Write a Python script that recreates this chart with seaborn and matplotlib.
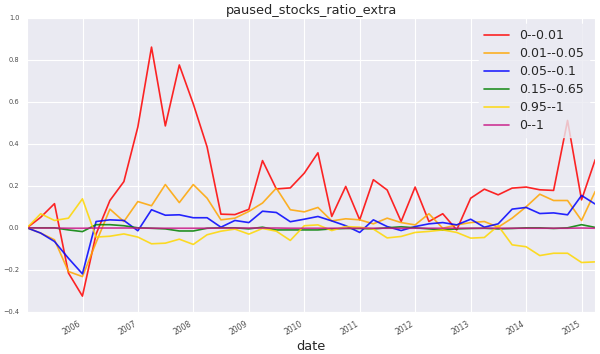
import pandas as pd
import matplotlib
matplotlib.use('Agg')
import matplotlib.pyplot as plt
import matplotlib.dates as mdates
import seaborn as sns

# 분기별 날짜 (2004-12-31 ~ 2015-03-31)
dates = pd.date_range('2004-12-31', periods=42, freq=pd.offsets.QuarterEnd())
year_ticks = [str(y) for y in range(2006, 2016)]

r_0_001 = [0.0, 0.05, 0.115, -0.215, -0.325, -0.03, 0.13, 0.22, 0.48, 0.86,
           0.485, 0.775, 0.59, 0.385, 0.065, 0.063, 0.088, 0.32, 0.185, 0.19,
           0.26, 0.357, 0.054, 0.197, 0.038, 0.229, 0.18, 0.03, 0.194, 0.03,
           0.067, -0.01, 0.141, 0.184, 0.157, 0.189, 0.194, 0.181, 0.178, 0.511,
           0.133, 0.324]
r_001_005 = [0.0, -0.025, -0.057, -0.208, -0.232, -0.07, 0.089, 0.03, 0.125, 0.105,
             0.206, 0.12, 0.206, 0.141, 0.038, 0.046, 0.078, 0.118, 0.189, 0.086,
             0.076, 0.097, 0.033, 0.043, 0.038, 0.019, 0.046, 0.025, 0.014, 0.067,
             -0.002, 0.014, 0.025, 0.03, 0.003, 0.046, 0.10, 0.16, 0.13, 0.13,
             0.035, 0.173]
r_005_01 = [0.0, -0.025, -0.065, -0.145, -0.219, 0.03, 0.038, 0.035, -0.014, 0.086,
            0.06, 0.062, 0.048, 0.048, 0.003, 0.035, 0.025, 0.079, 0.073, 0.029,
            0.041, 0.054, 0.033, 0.01, -0.022, 0.038, 0.006, -0.013, 0.006, 0.019,
            0.025, 0.014, 0.041, 0.003, 0.019, 0.089, 0.097, 0.068, 0.071, 0.062,
            0.154, 0.113]
r_015_065 = [0.0, 0.0, 0.0, -0.01, -0.018, 0.015, 0.015, 0.01, 0.0, -0.002,
             -0.005, -0.015, -0.015, -0.002, 0.0, 0.0, -0.005, 0.003, -0.01, -0.01,
             -0.01, -0.01, -0.005, -0.003, -0.003, -0.005, 0.0, 0.005, 0.0, -0.005,
             -0.01, -0.005, -0.003, -0.002, -0.005, -0.003, 0.0, 0.0, -0.003, 0.0,
             0.015, 0.002]
r_095_1 = [0.0, 0.067, 0.035, 0.046, 0.138, -0.044, -0.04, -0.029, -0.044, -0.076,
           -0.073, -0.054, -0.079, -0.033, -0.016, -0.006, -0.03, -0.003, -0.016, -0.06,
           0.01, 0.014, -0.013, 0.006, 0.003, -0.006, -0.048, -0.041, -0.022, -0.017,
           -0.01, -0.022, -0.049, -0.046, 0.01, -0.081, -0.09, -0.132, -0.121, -0.121,
           -0.165, -0.162]
r_0_1 = [0.0, -0.001, -0.001, -0.002, -0.002, -0.001, -0.001, -0.001, -0.001, -0.002,
         -0.002, -0.002, -0.002, -0.002, -0.001, -0.001, -0.001, -0.001, -0.001, -0.002,
         -0.002, -0.002, -0.002, -0.002, -0.002, -0.002, -0.002, -0.002, -0.002, -0.002,
         -0.002, -0.002, -0.002, -0.002, -0.002, -0.002, -0.002, -0.002, -0.002, -0.002,
         -0.001, -0.002]

labels = ['0--0.01', '0.01--0.05', '0.05--0.1', '0.15--0.65', '0.95--1', '0--1']
colors = ['red', 'orange', 'blue', 'green', 'gold', 'mediumvioletred']
series = [r_0_001, r_001_005, r_005_01, r_015_065, r_095_1, r_0_1]

df = pd.concat([pd.DataFrame({'date': dates, 'value': s, 'group': lab})
                for lab, s in zip(labels, series)], ignore_index=True)

sns.set_style('darkgrid')
fig = plt.figure(figsize=(6, 3.54), dpi=100)
ax = fig.add_axes([0.045, 0.119, 0.947, 0.831])

sns.lineplot(data=df, x='date', y='value', hue='group', hue_order=labels,
             palette=dict(zip(labels, colors)), linewidth=1.2, alpha=0.85, ax=ax)

ax.set_xlim(dates[0], dates[-1])
ax.set_ylim(-0.4, 1.0)
ax.set_yticks([-0.4, -0.2, 0.0, 0.2, 0.4, 0.6, 0.8, 1.0])
ax.set_xticks(pd.to_datetime(year_ticks))
ax.xaxis.set_major_formatter(mdates.DateFormatter('%Y'))
ax.tick_params(axis='y', labelsize=4.8, pad=2, colors='.3')
ax.tick_params(axis='x', labelsize=5.5, pad=2, colors='.3')
plt.setp(ax.get_xticklabels(), rotation=30, ha='right')

ax.set_title('paused_stocks_ratio_extra', fontsize=9.3, pad=3, color='.15')
ax.set_xlabel('date', fontsize=9.3, labelpad=2, color='.15')
ax.set_ylabel('')

leg = ax.legend(loc='upper right', fontsize=9, frameon=True, facecolor='#EAEAF2',
                edgecolor='#EAEAF2', framealpha=0.8, labelspacing=0.4,
                borderaxespad=0.5)
for line in leg.get_lines():
    line.set_linewidth(1.2)

plt.savefig('out.png', dpi=100)
